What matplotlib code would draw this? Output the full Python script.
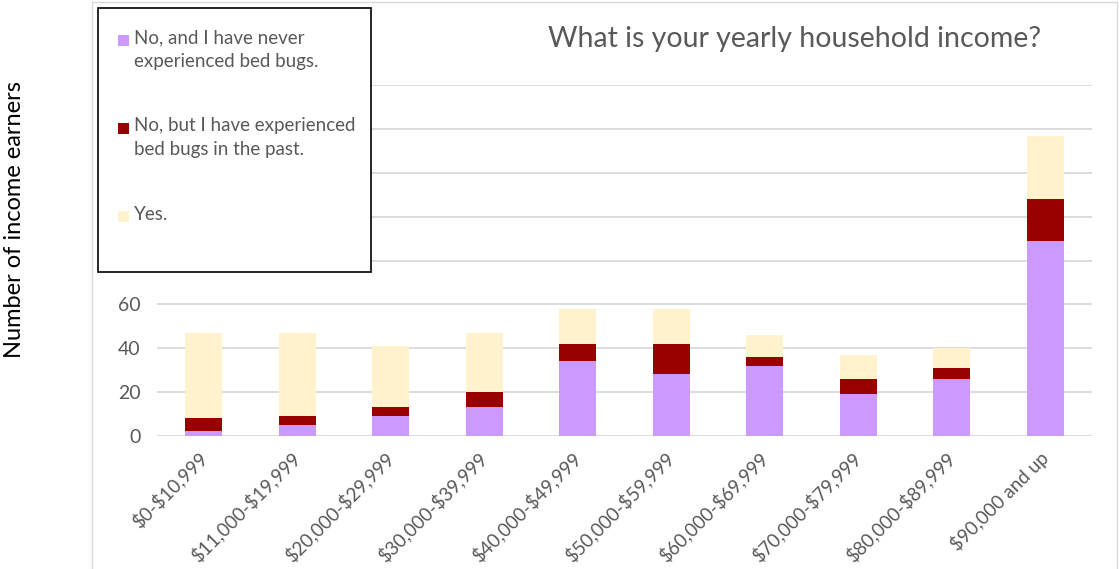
import textwrap
import matplotlib
matplotlib.use("Agg")
import matplotlib.pyplot as plt
from matplotlib.patches import Rectangle
from matplotlib.ticker import FuncFormatter
import numpy as np

categories = ["$0-$10,999", "$11,000-$19,999", "$20,000-$29,999", "$30,000-$39,999",
              "$40,000-$49,999", "$50,000-$59,999", "$60,000-$69,999", "$70,000-$79,999",
              "$80,000-$89,999", "$90,000 and up"]
series_names = ["No, and I have never experienced bed bugs.",
                "No, but I have experienced bed bugs in the past.",
                "Yes."]
never = [2, 5, 9, 13, 34, 28, 32, 19, 26, 89]
past = [6, 4, 4, 7, 8, 14, 4, 7, 5, 19]
yes = [39, 38, 28, 27, 16, 16, 10, 11, 9, 29]
colors = ["#CC99FF", "#990000", "#FFF2CC"]

title = "What is your yearly household income?"
ylabel = "Number of income earners"
yticks = list(range(0, 161, 20))

plt.rcParams['font.family'] = ['Lato', 'DejaVu Sans']
plt.rcParams['text.parse_math'] = False

W, H = 1119, 569
fig = plt.figure(figsize=(W / 100, H / 100), dpi=100)

def px(x, y):
    return x / W, 1 - y / H

# chart area border
fig.patches.append(Rectangle(px(91.5, 600), (1116.5 - 91.5) / W, (600 - 2) / H,
                             transform=fig.transFigure, fill=False,
                             edgecolor="#D9D9D9", linewidth=1.0, zorder=0))

left, top = 157, 85.3
right, bottom = 1092, 435.7
ax = fig.add_axes([left / W, 1 - bottom / H, (right - left) / W, (bottom - top) / H])

x = np.arange(len(categories))
bw = 0.4
b = np.zeros(len(categories))
for vals, c, name in zip([never, past, yes], colors, series_names):
    ax.bar(x, vals, bw, bottom=b, color=c, edgecolor="none", label=name, zorder=3)
    b += np.array(vals)

ax.set_xlim(-0.5, len(categories) - 0.5)
ax.set_ylim(0, 160)
ax.set_yticks(yticks)
# labels above 60 are hidden behind the legend box in the reference
ax.yaxis.set_major_formatter(FuncFormatter(lambda v, p: f"{v:.0f}" if v <= 60 else ""))
ax.grid(axis="y", color="#D9D9D9", linewidth=1.3, zorder=0)
ax.set_axisbelow(True)
for s in ax.spines.values():
    s.set_visible(False)
ax.tick_params(axis="both", length=0)
ax.tick_params(axis="y", pad=12, labelsize=14, labelcolor="#595959")
ax.set_xticks(x)
ax.set_xticklabels(categories, rotation=45, ha="right", va="center",
                   rotation_mode="anchor", fontsize=13.5, color="#595959")
ax.tick_params(axis="x", pad=14)

fig.text(*px(795, 39), title, ha="center", va="center", fontsize=20.5, color="#595959")
fig.text(*px(15, 220), ylabel, ha="center", va="center", rotation=90, fontsize=17, color="black")

# legend box
fig.patches.append(Rectangle(px(98.3, 271.7), (371 - 98.3) / W, (271.7 - 8.3) / H,
                             transform=fig.transFigure, facecolor="white",
                             edgecolor="black", linewidth=1.2, zorder=5))
first_line_centers = [39.5, 127.5, 216]
for name, c, yc in zip(series_names, colors, first_line_centers):
    fig.patches.append(Rectangle(px(118, yc + 6), 11 / W, 11 / H,
                                 transform=fig.transFigure, facecolor=c,
                                 edgecolor="none", zorder=6))
    fig.text(*px(134, yc - 10), textwrap.fill(name, 26), ha="left", va="top",
             fontsize=13.5, color="#595959", linespacing=1.5, zorder=6)

fig.savefig("out.png", dpi=100)
